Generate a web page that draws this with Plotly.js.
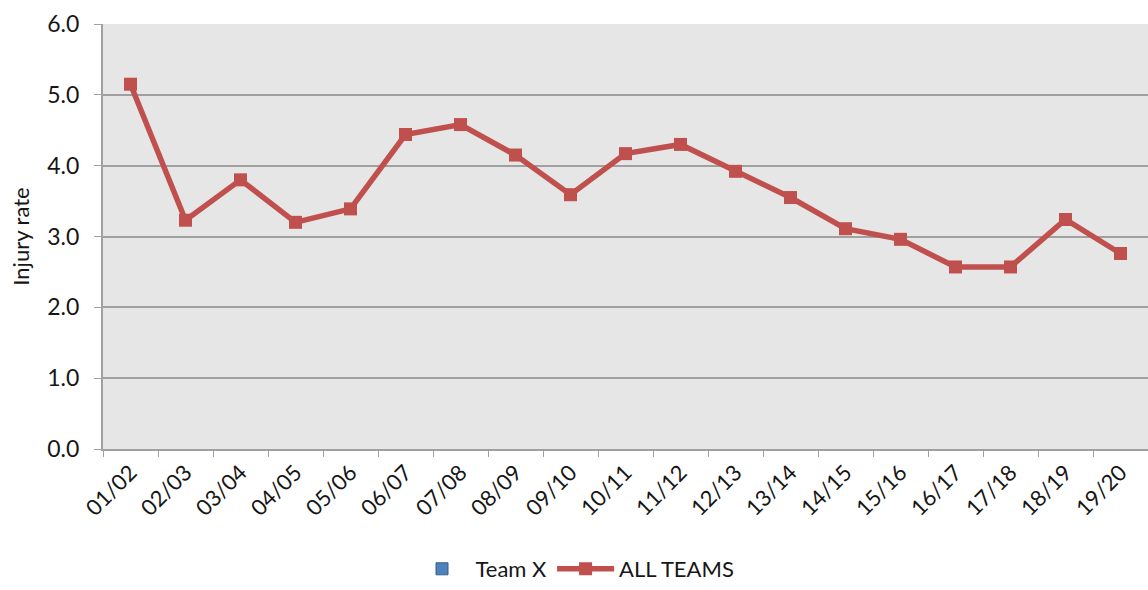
<!DOCTYPE html>
<html>
<head>
<meta charset="utf-8">
<script src="https://cdn.plot.ly/plotly-3.0.1.min.js"></script>
<style>html,body{margin:0;padding:0;background:#fff;}#chart{width:1148px;height:590px;}</style>
</head>
<body>
<div id="chart"></div>
<script>
const seasons = ["01/02","02/03","03/04","04/05","05/06","06/07","07/08","08/09","09/10","10/11","11/12","12/13","13/14","14/15","15/16","16/17","17/18","18/19","19/20"];
const allTeams = [5.15,3.23,3.80,3.20,3.39,4.44,4.58,4.15,3.59,4.17,4.30,3.92,3.55,3.11,2.96,2.57,2.57,3.24,2.76];
const teamX = [null,null,null,null,null,null,null,null,null,null,null,null,null,null,null,null,null,null,null];
const yTicks = [0,1,2,3,4,5,6];
const yTickLabels = ["0.0","1.0","2.0","3.0","4.0","5.0","6.0"];

const font = "Lato, 'Open Sans', sans-serif";
const txt = "#161616";
const traces = [
  {type:"bar", name:"Team X", x: seasons, y: teamX,
   marker:{color:"#4f81bd", line:{color:"#385d8a", width:1}}, showlegend:true},
  {type:"scatter", mode:"lines+markers", name:"ALL TEAMS", x: seasons, y: allTeams,
   line:{color:"#c0504d", width:5.5}, marker:{symbol:"square", size:13, color:"#c0504d"}}
];
const layout = {
  width:1148, height:590,
  margin:{l:103, r:0, t:24, b:141},
  paper_bgcolor:"#ffffff", plot_bgcolor:"#e6e6e6",
  font:{family:font, color:txt, size:22},
  showlegend:true,
  legend:{orientation:"h", xref:"container", yref:"container", x:0.5, xanchor:"center", y:0.0, yanchor:"bottom",
          font:{size:22, family:font, color:txt}, traceorder:"normal", itemwidth:57},
  xaxis:{type:"category", categoryorder:"array", categoryarray:seasons, range:[-0.5,18.5],
         tickangle:-45, ticks:"outside", tickson:"boundaries", ticklen:6, tickcolor:"#a0a0a0",
         showline:true, linecolor:"#a0a0a0", linewidth:2, showgrid:false, zeroline:false,
         tickfont:{size:22, family:font, color:txt}, fixedrange:true},
  yaxis:{range:[0,6], tickvals:yTicks, ticktext:yTickLabels, ticks:"outside", ticklen:7, tickcolor:"#a0a0a0",
         showline:true, linecolor:"#a0a0a0", linewidth:2, showgrid:true, gridcolor:"#a0a0a0", gridwidth:2,
         zeroline:false, ticklabelstandoff:10,
         tickfont:{size:23, family:font, color:txt},
         title:{text:"Injury rate", font:{size:22, family:font, color:txt}, standoff:12}, fixedrange:true}
};
Plotly.newPlot("chart", traces, layout, {displayModeBar:false, staticPlot:true});
</script>
</body>
</html>
